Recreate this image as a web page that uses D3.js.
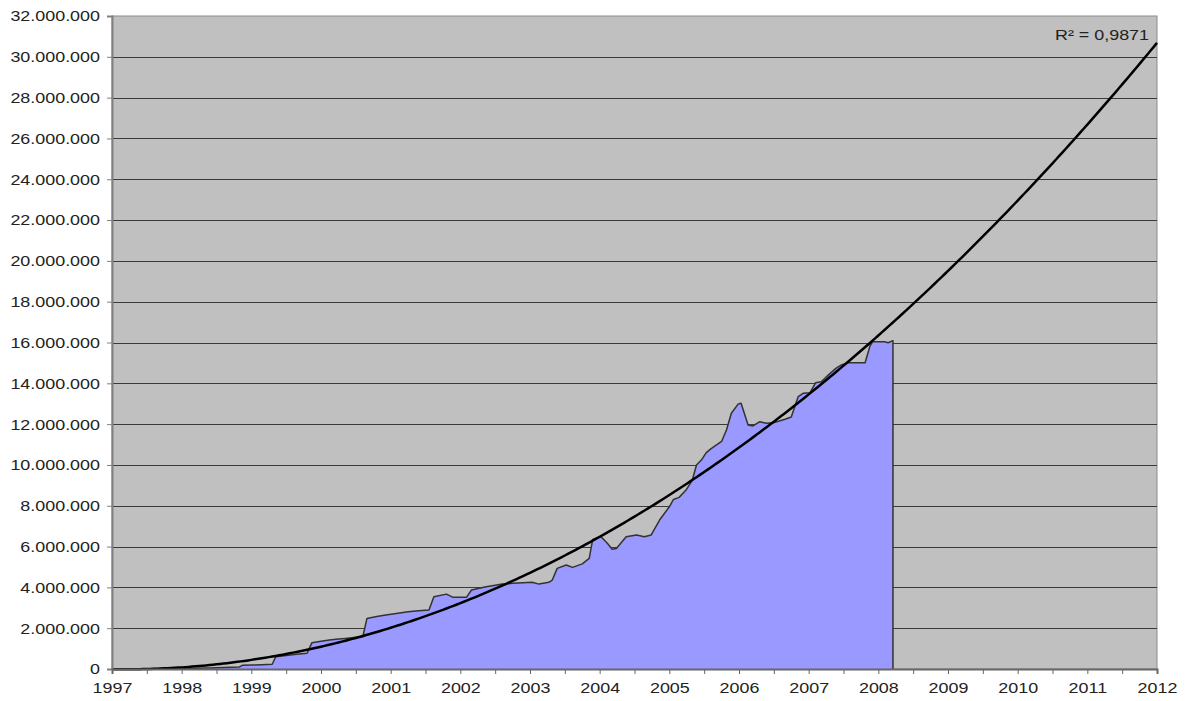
<!DOCTYPE html>
<html>
<head>
<meta charset="utf-8">
<script src="https://cdn.jsdelivr.net/npm/d3@7"></script>
<style>
    body { margin: 0; background: #fff; }
    text { font-family: "Liberation Sans", Arial, sans-serif; font-size: 14px; fill: #222; }
</style>
</head>
<body>
<div class="chart"></div>
<script>
// decimal years and values in millions
var dates = [1997.00, 1997.25, 1997.50, 1997.75, 1998.00, 1998.20, 1998.40, 1998.60, 1998.83, 1998.87,
    1999.00, 1999.15, 1999.30, 1999.35, 1999.50, 1999.65, 1999.80, 1999.87, 2000.00, 2000.12,
    2000.25, 2000.35, 2000.50, 2000.60, 2000.66, 2000.80, 2000.93, 2001.08, 2001.25, 2001.40,
    2001.55, 2001.62, 2001.80, 2001.89, 2002.09, 2002.16, 2002.37, 2002.50, 2002.60, 2002.75,
    2002.90, 2003.03, 2003.13, 2003.27, 2003.32, 2003.39, 2003.52, 2003.61, 2003.75, 2003.85,
    2003.90, 2004.02, 2004.11, 2004.18, 2004.24, 2004.38, 2004.53, 2004.64, 2004.74, 2004.86,
    2005.00, 2005.06, 2005.14, 2005.24, 2005.33, 2005.39, 2005.46, 2005.53, 2005.60, 2005.75,
    2005.82, 2005.89, 2005.99, 2006.03, 2006.13, 2006.20, 2006.30, 2006.39, 2006.49, 2006.58,
    2006.66, 2006.75, 2006.85, 2006.92, 2007.02, 2007.10, 2007.18, 2007.28, 2007.39, 2007.47,
    2007.56, 2007.68, 2007.81, 2007.88, 2007.92, 2008.09, 2008.14, 2008.21];
var values = [0.00, 0.005, 0.01, 0.02, 0.03, 0.04, 0.05, 0.07, 0.10, 0.18,
    0.19, 0.21, 0.23, 0.60, 0.66, 0.72, 0.77, 1.29, 1.36, 1.42,
    1.47, 1.50, 1.55, 1.58, 2.48, 2.57, 2.65, 2.72, 2.80, 2.85,
    2.89, 3.54, 3.67, 3.52, 3.52, 3.87, 4.03, 4.10, 4.16, 4.20,
    4.23, 4.25, 4.16, 4.25, 4.36, 4.93, 5.10, 4.98, 5.15, 5.42,
    6.35, 6.48, 6.16, 5.87, 5.91, 6.48, 6.57, 6.48, 6.57, 7.30,
    7.95, 8.31, 8.41, 8.77, 9.26, 10.00, 10.24, 10.60, 10.80, 11.15,
    11.71, 12.53, 12.99, 13.02, 11.96, 11.91, 12.12, 12.04, 12.07, 12.15,
    12.24, 12.35, 13.35, 13.51, 13.54, 14.03, 14.08, 14.40, 14.73, 14.90,
    15.01, 15.01, 15.01, 15.83, 16.04, 16.04, 15.99, 16.09];

var yTicks = [0, 2, 4, 6, 8, 10, 12, 14, 16, 18, 20, 22, 24, 26, 28, 30, 32];
var xYears = [1997, 1998, 1999, 2000, 2001, 2002, 2003, 2004, 2005, 2006, 2007, 2008, 2009, 2010, 2011, 2012];
var rSquaredLabel = 'R² = 0,9871';

var width = 1186, height = 701;
var margin = {left: 112, top: 16, right: 29, bottom: 32};
var textScale = 'scale(1.28,1)';

var svg = d3.select('.chart').append('svg')
    .attr('width', width)
    .attr('height', height);

var x = d3.scaleLinear().domain([1997, 2012]).range([margin.left, width - margin.right]);
var y = d3.scaleLinear().domain([0, 32]).range([height - margin.bottom, margin.top]);

var fmt = d3.formatLocale({decimal: ',', thousands: '.', grouping: [3], currency: ['', '']}).format(',d');

// plot background
svg.append('rect')
    .attr('x', x(1997))
    .attr('y', y(32))
    .attr('width', x(2012) - x(1997))
    .attr('height', y(0) - y(32))
    .attr('fill', '#c0c0c0')
    .attr('stroke', '#8c8c8c')
    .attr('stroke-width', 1);

// gridlines
svg.append('g')
    .selectAll('line')
    .data(yTicks.filter(function (d) { return d > 0 && d < 32; }))
    .join('line')
    .attr('x1', x(1997))
    .attr('x2', x(2012))
    .attr('y1', function (d) { return Math.round(y(d)) + 0.5; })
    .attr('y2', function (d) { return Math.round(y(d)) + 0.5; })
    .attr('stroke', '#3a3a3a')
    .attr('stroke-width', 1);

// data area
var points = dates.map(function (d, i) { return [d, values[i]]; });

var area = d3.area()
    .x(function (d) { return x(d[0]); })
    .y0(y(0))
    .y1(function (d) { return y(d[1]); });

svg.append('path')
    .datum(points)
    .attr('d', area)
    .attr('fill', '#9999ff');

var outline = points.concat([[dates[dates.length - 1], 0]]);
svg.append('path')
    .datum(outline)
    .attr('d', d3.line().x(function (d) { return x(d[0]); }).y(function (d) { return y(d[1]); }))
    .attr('fill', 'none')
    .attr('stroke', '#333')
    .attr('stroke-width', 1.5)
    .attr('stroke-linejoin', 'round');

// quadratic least squares trend, like the spreadsheet trendline
function polyFit(xs, ys, order) {
    var n = order + 1;
    var m = [];
    for (var r = 0; r < n; r++) {
        m.push([]);
        for (var c = 0; c <= n; c++) m[r].push(0);
    }
    for (var i = 0; i < xs.length; i++) {
        for (r = 0; r < n; r++) {
            for (c = 0; c < n; c++) m[r][c] += Math.pow(xs[i], r + c);
            m[r][n] += ys[i] * Math.pow(xs[i], r);
        }
    }
    for (r = 0; r < n; r++) {
        for (var k = r + 1; k < n; k++) {
            var f = m[k][r] / m[r][r];
            for (c = r; c <= n; c++) m[k][c] -= f * m[r][c];
        }
    }
    var coef = new Array(n);
    for (r = n - 1; r >= 0; r--) {
        var s = m[r][n];
        for (c = r + 1; c < n; c++) s -= m[r][c] * coef[c];
        coef[r] = s / m[r][r];
    }
    return coef;
}

var coef = polyFit(dates.map(function (d) { return d - 1997; }), values, 2);
var trend = d3.range(0, 15.001, 0.05).map(function (t) {
    return [1997 + t, coef[0] + coef[1] * t + coef[2] * t * t];
});

svg.append('path')
    .datum(trend)
    .attr('d', d3.line().x(function (d) { return x(d[0]); }).y(function (d) { return y(d[1]); }))
    .attr('fill', 'none')
    .attr('stroke', '#000')
    .attr('stroke-width', 2.5);

// y axis
var yAxis = svg.append('g')
    .attr('transform', 'translate(' + x(1997) + ',0)')
    .call(d3.axisLeft(y).tickValues(yTicks).tickSize(5).tickFormat(function (d) { return fmt(d * 1e6); }));
yAxis.select('.domain').attr('stroke', '#808080').attr('stroke-width', 2);
yAxis.selectAll('.tick line').attr('stroke', '#808080');
yAxis.selectAll('.tick text')
    .attr('x', 0)
    .attr('dy', '0.35em')
    .attr('fill', '#222')
    .attr('font-size', 14)
    .attr('font-family', '"Liberation Sans", Arial, sans-serif')
    .attr('transform', 'translate(-12,0) ' + textScale);

// x axis with half-year ticks
var halfYears = d3.range(1997, 2012.01, 0.5);
var xAxis = svg.append('g')
    .attr('transform', 'translate(0,' + y(0) + ')')
    .call(d3.axisBottom(x).tickValues(halfYears).tickSize(5).tickFormat(function (d) {
        return xYears.indexOf(d) >= 0 ? d : '';
    }));
xAxis.select('.domain').attr('stroke', '#666').attr('stroke-width', 2);
xAxis.selectAll('.tick line').attr('stroke', '#666');
xAxis.selectAll('.tick text')
    .attr('y', 0)
    .attr('dy', 0)
    .attr('fill', '#222')
    .attr('font-size', 14)
    .attr('font-family', '"Liberation Sans", Arial, sans-serif')
    .attr('transform', 'translate(0,24) ' + textScale);

svg.append('text')
    .attr('text-anchor', 'end')
    .attr('transform', 'translate(' + (x(2012) - 8) + ',40) ' + textScale)
    .text(rSquaredLabel);
</script>
</body>
</html>
